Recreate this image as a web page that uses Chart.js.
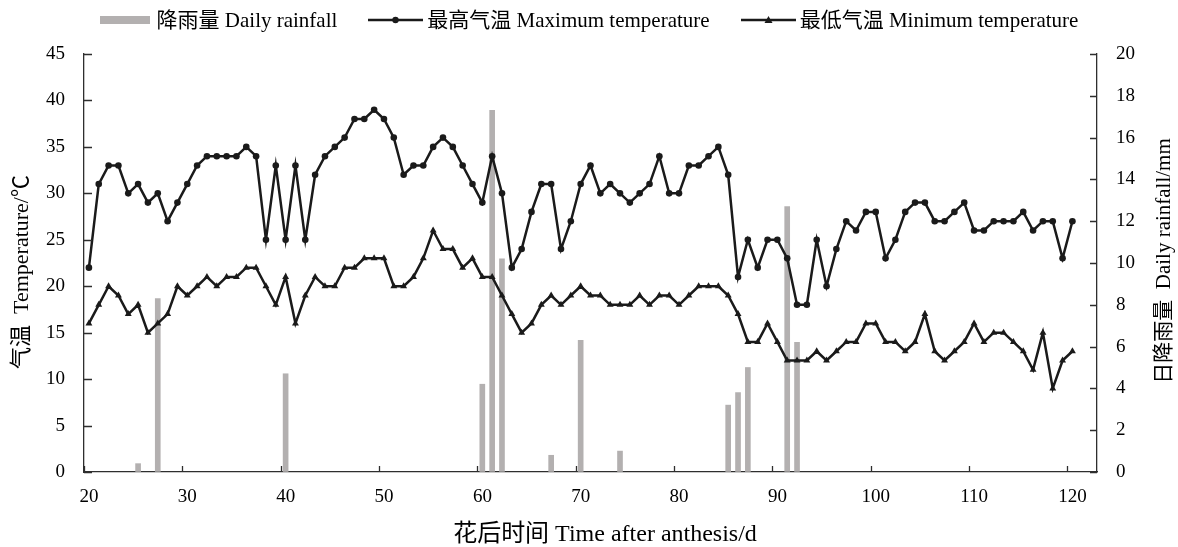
<!DOCTYPE html>
<html><head><meta charset="utf-8">
<script src="https://cdn.jsdelivr.net/npm/chart.js@4.4.1/dist/chart.umd.min.js"></script>
<style>
html,body{margin:0;padding:0;background:#fff;}
#wrap{position:relative;width:1178px;height:547px;}
#legend{position:absolute;left:0;top:8px;width:1178px;display:flex;justify-content:center;align-items:center;
  font-family:'Liberation Serif','Times New Roman','Noto Sans CJK SC',serif;font-size:21px;color:#000;line-height:24px;white-space:nowrap;}
.item{display:flex;align-items:center;}
.item + .item{margin-left:31px;}
.box{width:50px;height:8px;background:#b3b0b0;margin-right:7px;}
.sym{margin-right:4px;display:block;}
</style></head>
<body>
<div id="wrap">
<canvas id="c" width="1178" height="547"></canvas>
<div id="legend"></div>
</div>
<script>
// ---- data ----
const days = [20,21,22,23,24,25,26,27,28,29,30,31,32,33,34,35,36,37,38,39,
  40,41,42,43,44,45,46,47,48,49,50,51,52,53,54,55,56,57,58,59,
  60,61,62,63,64,65,66,67,68,69,70,71,72,73,74,75,76,77,78,79,
  80,81,82,83,84,85,86,87,88,89,90,91,92,93,94,95,96,97,98,99,
  100,101,102,103,104,105,106,107,108,109,110,111,112,113,114,115,116,117,118,119,120];
const maxTemp = [22,31,33,33,30,31,29,30,27,29,31,33,34,34,34,34,35,34,25,33,
  25,33,25,32,34,35,36,38,38,39,38,36,32,33,33,35,36,35,33,31,
  29,34,30,22,24,28,31,31,24,27,31,33,30,31,30,29,30,31,34,30,
  30,33,33,34,35,32,21,25,22,25,25,23,18,18,25,20,24,27,26,28,
  28,23,25,28,29,29,27,27,28,29,26,26,27,27,27,28,26,27,27,23,27];
const minTemp = [16,18,20,19,17,18,15,16,17,20,19,20,21,20,21,21,22,22,20,18,
  21,16,19,21,20,20,22,22,23,23,23,20,20,21,23,26,24,24,22,23,
  21,21,19,17,15,16,18,19,18,19,20,19,19,18,18,18,19,18,19,19,
  18,19,20,20,20,19,17,14,14,16,14,12,12,12,13,12,13,14,14,16,
  16,14,14,13,14,17,13,12,13,14,16,14,15,15,14,13,11,15,9,12,13];
const rainDays = [25,27,40,60,61,62,67,70,74,85,86,87,91,92];
const rainfall = [0.4,8.3,4.7,4.2,17.3,10.2,0.8,6.3,1.0,3.2,3.8,5.0,12.7,6.2];
const xTicks = [20,30,40,50,60,70,80,90,100,110,120];
const seriesNames = ['降雨量 Daily rainfall','最高气温 Maximum temperature','最低气温 Minimum temperature'];
const xTitle = '花后时间 Time after anthesis/d';
const yTitle = '气温  Temperature/℃';
const y2Title = '日降雨量  Daily rainfall/mm';

// ---- styling ----
const FONT = "'Liberation Serif','Times New Roman','Noto Sans CJK SC',serif";
const LINE = '#1a1a1a', BAR = '#b3b0b0', AXIS = '#2e2e2e';
const HALF = 0.5; // each day is drawn in the middle of its one-day slot

// legend (HTML)
const lg = document.getElementById('legend');
lg.innerHTML =
  '<div class="item"><div class="box"></div><span>'+seriesNames[0]+'</span></div>'+
  '<div class="item"><svg class="sym" width="55" height="10"><line x1="0" y1="5" x2="55" y2="5" stroke="'+LINE+'" stroke-width="2.5"/><circle cx="27.5" cy="5" r="3.2" fill="'+LINE+'"/></svg><span>'+seriesNames[1]+'</span></div>'+
  '<div class="item"><svg class="sym" width="55" height="10"><line x1="0" y1="5" x2="55" y2="5" stroke="'+LINE+'" stroke-width="2.5"/><polygon points="27.5,1 31.5,8 23.5,8" fill="'+LINE+'"/></svg><span>'+seriesNames[2]+'</span></div>';

const innerTicks = {
  id:'innerTicks',
  afterDraw(chart){
    const {ctx, chartArea:a} = chart; const {x,y,y2} = chart.scales;
    ctx.save(); ctx.strokeStyle = AXIS; ctx.lineWidth = 1.3; ctx.beginPath();
    x.ticks.forEach(t=>{const p=Math.round(x.getPixelForValue(t.value))+0.5; ctx.moveTo(p,a.bottom); ctx.lineTo(p,a.bottom-6);});
    y.ticks.forEach(t=>{const p=Math.round(y.getPixelForValue(t.value))+0.5; ctx.moveTo(a.left,p); ctx.lineTo(a.left+8,p);});
    y2.ticks.forEach(t=>{const p=Math.round(y2.getPixelForValue(t.value))+0.5; ctx.moveTo(a.right,p); ctx.lineTo(a.right-7,p);});
    ctx.stroke(); ctx.restore();
  }
};
const axisTitles = {
  id:'axisTitles',
  afterDraw(chart){
    const ctx = chart.ctx;
    ctx.save(); ctx.fillStyle = '#000';
    ctx.textAlign = 'center'; ctx.textBaseline = 'middle';
    ctx.font = '24px ' + FONT;
    ctx.fillText(xTitle, 605, 535);
    ctx.font = '22px ' + FONT;
    ctx.save(); ctx.translate(22, 272); ctx.rotate(-Math.PI/2); ctx.fillText(yTitle, 0, 0); ctx.restore();
    ctx.font = '21px ' + FONT;
    ctx.save(); ctx.translate(1164, 261); ctx.rotate(-Math.PI/2); ctx.fillText(y2Title, 0, 0); ctx.restore();
    ctx.restore();
  }
};

const tickFont = {family: FONT, size: 19};
new Chart(document.getElementById('c'), {
  data: {
    datasets: [
      {type:'bar', label: seriesNames[0], yAxisID:'y2', order:3,
        data: rainDays.map((d,i)=>({x:d+HALF, y:rainfall[i]})),
        backgroundColor: BAR, barThickness:5, borderWidth:0},
      {type:'line', label: seriesNames[1], yAxisID:'y', order:1,
        data: days.map((d,i)=>({x:d+HALF, y:maxTemp[i]})),
        borderColor: LINE, borderWidth:2.5, tension:0, pointStyle:'circle', pointRadius:3.3,
        pointBackgroundColor: LINE, pointBorderColor: LINE, pointBorderWidth:0},
      {type:'line', label: seriesNames[2], yAxisID:'y', order:2,
        data: days.map((d,i)=>({x:d+HALF, y:minTemp[i]})),
        borderColor: LINE, borderWidth:2.5, tension:0, pointStyle:'triangle', pointRadius:4,
        pointBackgroundColor: LINE, pointBorderColor: LINE, pointBorderWidth:0}
    ]
  },
  options: {
    responsive:false, animation:false, devicePixelRatio:1,
    layout:{padding:{top:54,left:0,right:0,bottom:0}},
    plugins:{legend:{display:false}, tooltip:{enabled:false}},
    scales:{
      x:{type:'linear', position:'bottom', min:20, max:123, offset:false,
        afterFit(s){ s.height = 75; },
        afterBuildTicks(s){ s.ticks = xTicks.map(v=>({value:v})); },
        ticks:{font:tickFont, color:'#000', padding:14, labelOffset:5, maxRotation:0, autoSkip:false},
        grid:{display:true, drawOnChartArea:false, drawTicks:false, offset:false},
        border:{display:true, color:AXIS, width:1.3}},
      y:{type:'linear', position:'left', min:0, max:45,
        afterFit(s){ s.width = 84; },
        ticks:{stepSize:5, font:tickFont, color:'#000', padding:19},
        grid:{display:true, drawOnChartArea:false, drawTicks:false},
        border:{display:true, color:AXIS, width:1.3}},
      y2:{type:'linear', position:'right', min:0, max:20,
        afterFit(s){ s.width = 81; },
        ticks:{stepSize:2, font:tickFont, color:'#000', padding:19},
        grid:{display:true, drawOnChartArea:false, drawTicks:false},
        border:{display:true, color:AXIS, width:1.3}}
    }
  },
  plugins:[innerTicks, axisTitles]
});
</script>
</body></html>
